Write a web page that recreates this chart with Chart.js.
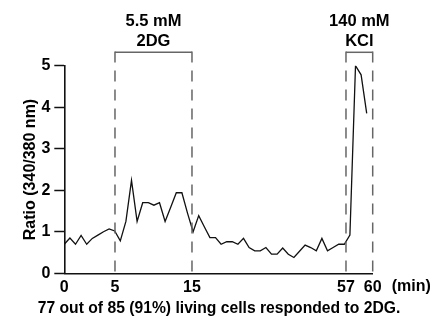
<!DOCTYPE html>
<html><head><meta charset="utf-8">
<script src="https://cdn.jsdelivr.net/npm/chart.js@4/dist/chart.umd.min.js"></script>
<style>html,body{margin:0;padding:0;background:#fff}</style>
</head><body>
<canvas id="c" width="436" height="328"></canvas>
<script>
// Ratio (340/380 nm) for each sample, in recording order
const ratio = [0.70,0.85,0.70,0.91,0.70,0.84,0.92,1.00,1.07,1.02,0.78,1.25,2.24,1.25,1.70,1.70,1.64,1.70,1.25,1.59,1.94,1.94,1.45,1.00,1.39,1.12,0.86,0.86,0.70,0.76,0.76,0.70,0.84,0.62,0.54,0.54,0.62,0.46,0.46,0.61,0.46,0.38,0.53,0.68,0.62,0.54,0.84,0.54,0.62,0.70,0.70,0.92,5.00,4.78,3.85];
const sample = ratio.map((_, i) => i);
// time marks (min) and the sample index at which each falls
const markLabels = ['0', '5', '15', '57', '60'];
const markSample = [0, 9.05, 22.8, 50.3, 55.07];
// treatments: label lines, start mark, end mark
const treatLabels = [['5.5 mM', '2DG'], ['140 mM', 'KCl']];
const treatStart = ['5', '57'];
const treatEnd = ['15', '60'];
const yTicks = [0, 1, 2, 3, 4, 5];
const yTitle = 'Ratio (340/380 nm)';
const unitLabel = '(min)';
const footerText = '77 out of 85 (91%) living cells responded to 2DG.';

const FONT = '"Liberation Sans", Arial, Helvetica, sans-serif';
const at = lbl => markSample[markLabels.indexOf(lbl)];

const overlay = {
  id: 'overlay',
  afterDraw(chart) {
    const {ctx, chartArea, scales: {x}} = chart;
    const yTop = chartArea.top - 13.4;
    ctx.save();
    treatLabels.forEach((lines, k) => {
      const x0 = x.getPixelForValue(at(treatStart[k]));
      const x1 = x.getPixelForValue(at(treatEnd[k]));
      ctx.strokeStyle = '#666';
      ctx.lineWidth = 1.5;
      ctx.setLineDash([]);
      ctx.beginPath();
      ctx.moveTo(x0, yTop); ctx.lineTo(x1, yTop);
      ctx.stroke();
      ctx.setLineDash([11, 8]);
      [x0, x1].forEach(px => {
        ctx.beginPath();
        ctx.moveTo(px, yTop - 0.75); ctx.lineTo(px, chartArea.bottom);
        ctx.stroke();
      });
      ctx.setLineDash([]);
      ctx.fillStyle = '#000';
      ctx.font = 'bold 16.5px ' + FONT;
      ctx.textAlign = 'center';
      ctx.textBaseline = 'middle';
      const cx = (x0 + x1) / 2;
      ctx.fillText(lines[0], cx, yTop - 31);
      ctx.fillText(lines[1], cx, yTop - 11);
    });
    ctx.font = 'bold 16px ' + FONT;
    ctx.textAlign = 'left';
    ctx.textBaseline = 'middle';
    ctx.fillStyle = '#000';
    ctx.fillText(unitLabel, x.right + 19, chartArea.bottom + 13);
    ctx.font = 'bold 15.7px ' + FONT;
    ctx.textAlign = 'center';
    ctx.fillText(footerText, 219, 309);
    ctx.restore();
  }
};

new Chart(document.getElementById('c'), {
  type: 'line',
  data: {
    datasets: [{
      data: sample.map((s, i) => ({x: s, y: ratio[i]})),
      borderColor: '#111',
      borderWidth: 1.3,
      pointRadius: 0,
      tension: 0,
      fill: false
    }]
  },
  options: {
    responsive: false,
    animation: false,
    devicePixelRatio: 1,
    layout: {padding: {top: 65.7, right: 63.3, left: 0, bottom: 0}},
    plugins: {legend: {display: false}, tooltip: {enabled: false}},
    scales: {
      x: {
        type: 'linear',
        min: 0,
        max: markSample[markSample.length - 1],
        afterFit: s => { s.height = 54.7; },
        afterBuildTicks: s => { s.ticks = markSample.map(v => ({value: v})); },
        grid: {display: true, drawOnChartArea: false, drawTicks: false},
        border: {display: true, color: '#111', width: 1.6},
        ticks: {
          autoSkip: false, maxRotation: 0, padding: 5, color: '#000',
          font: {family: FONT, size: 16, weight: 'bold'},
          callback: (v, i) => markLabels[i]
        }
      },
      y: {
        min: 0, max: 5,
        afterFit: s => { s.width = 64.3; },
        afterBuildTicks: s => { s.ticks = yTicks.map(v => ({value: v})); },
        grid: {display: true, drawOnChartArea: false, drawTicks: true, tickLength: 10, tickColor: '#111', tickWidth: 1.5},
        border: {display: true, color: '#111', width: 1.6},
        ticks: {padding: 4, color: '#000', font: {family: FONT, size: 16, weight: 'bold'}},
        title: {display: true, text: yTitle, color: '#000', padding: {top: 21, bottom: 0},
                font: {family: FONT, size: 16, weight: 'bold'}}
      }
    }
  },
  plugins: [overlay]
});
</script>
</body></html>
